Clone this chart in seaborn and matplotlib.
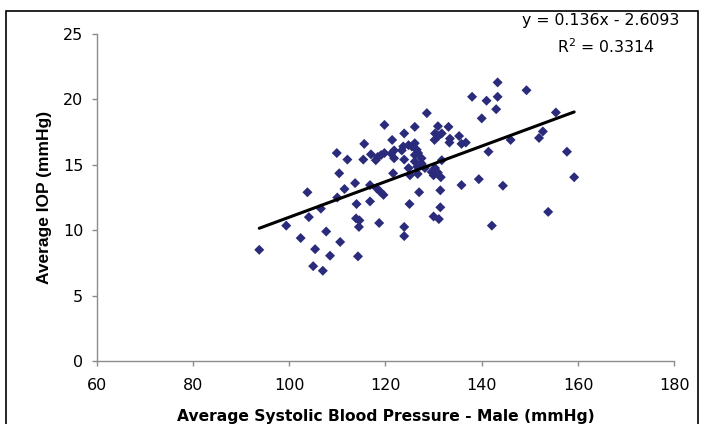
import matplotlib
matplotlib.use("Agg")
import matplotlib.pyplot as plt
import seaborn as sns
import pandas as pd
import numpy as np
from matplotlib.patches import Rectangle

# ---- data ----
systolic_bp = [
    93.8, 99.4, 102.4, 103.8, 104.1, 105.0, 105.4, 106.6, 107.0, 107.7,
    108.5, 109.9, 110.0, 110.4, 110.6, 111.5, 112.1, 113.7, 114.0, 113.9,
    114.6, 114.5, 114.3, 115.6, 115.4, 116.8, 116.8, 117.0, 118.0, 118.2,
    118.4, 118.9, 118.7, 119.1, 119.6, 119.8, 119.8, 121.2, 121.4, 121.6,
    121.8, 121.8, 123.4, 123.7, 123.9, 123.9, 123.9, 123.9, 124.8, 124.8,
    125.1, 125.0, 125.5, 126.1, 126.1, 126.5, 126.8, 126.1, 126.1, 126.6,
    126.7, 127.0, 127.5, 127.5, 128.2, 128.6, 129.6, 130.0, 130.3, 130.9,
    130.2, 130.3, 130.9, 131.0, 131.7, 131.7, 131.5, 131.4, 131.4, 130.0,
    131.1, 133.1, 133.4, 133.3, 135.3, 135.8, 136.7, 135.8, 138.0, 139.4,
    140.0, 141.0, 141.4, 142.1, 143.3, 143.3, 143.0, 144.4, 146.0, 149.3,
    151.9, 152.7, 153.8, 155.4, 157.7, 159.2,
]
average_iop = [
    8.5, 10.35, 9.4, 12.9, 11.0, 7.25, 8.55, 11.65, 6.9, 9.9,
    8.05, 15.9, 12.5, 14.35, 9.1, 13.15, 15.4, 13.6, 12.0, 10.9,
    10.75, 10.25, 8.0, 16.6, 15.4, 13.45, 12.2, 15.8, 15.35, 13.2,
    15.6, 12.95, 10.55, 15.75, 12.7, 18.05, 15.9, 15.85, 16.9, 14.35,
    16.1, 15.5, 16.1, 16.4, 17.4, 15.4, 10.25, 9.55, 16.5, 14.75,
    14.2, 12.0, 16.4, 17.9, 16.65, 16.15, 15.9, 15.75, 15.25, 14.85,
    14.3, 12.9, 15.5, 15.1, 14.75, 18.95, 14.45, 14.2, 14.75, 14.4,
    16.9, 17.4, 17.95, 17.2, 17.4, 15.35, 14.05, 13.05, 11.75, 11.05,
    10.85, 17.9, 17.0, 16.7, 17.2, 16.6, 16.7, 13.45, 20.2, 13.9,
    18.55, 19.9, 16.0, 10.35, 21.3, 20.2, 19.25, 13.4, 16.9, 20.7,
    17.05, 17.55, 11.4, 19.0, 16.0, 14.05,
]
trend_slope = 0.136
trend_intercept = -2.6093
trend_r2 = 0.3314
x_ticks = [60, 80, 100, 120, 140, 160, 180]
y_ticks = [0, 5, 10, 15, 20, 25]
x_label = "Average Systolic Blood Pressure - Male (mmHg)"
y_label = "Average IOP (mmHg)"

df = pd.DataFrame({"bp": systolic_bp, "iop": average_iop})
x_line = np.array([min(systolic_bp), max(systolic_bp)])
line_df = pd.DataFrame({"bp": x_line, "iop": trend_slope * x_line + trend_intercept})

# ---- style ----
sns.set_theme(style="white")
plt.rcParams["font.family"] = ["DejaVu Sans"]
plt.rcParams["text.color"] = "black"
plt.rcParams["axes.labelcolor"] = "black"

fig = plt.figure(figsize=(7.05, 4.24), dpi=100)
ax = fig.add_axes([0.1369, 0.1486, 0.8196, 0.7712])

sns.scatterplot(data=df, x="bp", y="iop", ax=ax, marker="D", s=26,
                color="#2B2B7C", edgecolor="none", linewidth=0, zorder=3)
sns.lineplot(data=line_df, x="bp", y="iop", ax=ax, color="black",
             linewidth=2.2, zorder=4)

ax.set_xlim(60, 180)
ax.set_ylim(0, 25)
ax.set_xticks(x_ticks)
ax.set_yticks(y_ticks)
ax.set_xticklabels([str(t) for t in x_ticks])
ax.set_yticklabels([str(t) for t in y_ticks])

for side in ["top", "right"]:
    ax.spines[side].set_visible(False)
for side in ["left", "bottom"]:
    ax.spines[side].set_color("#8C8C8C")
    ax.spines[side].set_linewidth(1.0)
ax.tick_params(axis="both", which="major", direction="out", length=3.5,
               width=1.0, color="#8C8C8C", labelsize=11.5, labelcolor="black",
               bottom=True, left=True)
ax.tick_params(axis="x", pad=8.5)
ax.tick_params(axis="y", pad=6)
ax.grid(False)

ax.set_xlabel(x_label, fontsize=11.2, fontweight="bold", labelpad=12,
              color="black")
ax.set_ylabel(y_label, fontsize=12.5, fontweight="bold", labelpad=8,
              family=["Liberation Sans", "DejaVu Sans"], color="black")

fig.text(0.852, 0.952, f"y = {trend_slope}x - {abs(trend_intercept)}",
         ha="center", va="center", fontsize=11.3, color="black")
fig.text(0.859, 0.889, f"R$^2$ = {trend_r2}", ha="center", va="center",
         fontsize=11.3, color="black")

# outer frame of the chart area
fig.patches.append(Rectangle((0.009, -0.1), 0.981, 1.074, transform=fig.transFigure,
                             fill=False, edgecolor="black", linewidth=1.2))

fig.savefig("out.png", dpi=100)
